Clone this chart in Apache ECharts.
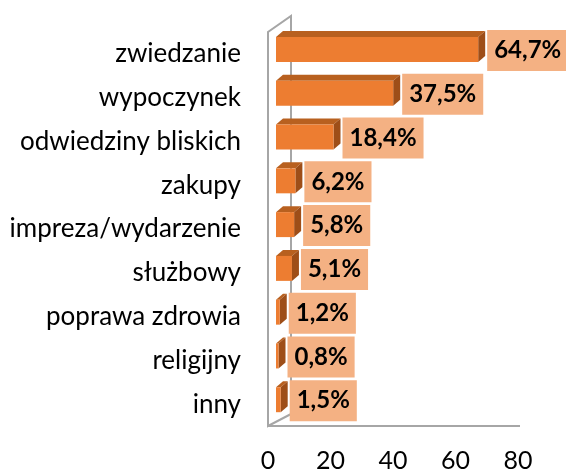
<!DOCTYPE html>
<html><head><meta charset="utf-8">
<script src="https://cdn.jsdelivr.net/npm/echarts@6/dist/echarts.min.js"></script>
<style>html,body{margin:0;padding:0;background:#fff}#c{width:566px;height:473px}</style>
</head><body><div id="c"></div>
<script>
const categories = ['zwiedzanie','wypoczynek','odwiedziny bliskich','zakupy','impreza/wydarzenie','służbowy','poprawa zdrowia','religijny','inny'];
const values = [64.7, 37.5, 18.4, 6.2, 5.8, 5.1, 1.2, 0.8, 1.5];
const tickValues = [0, 20, 40, 60, 80];

const FRONT = '#ED7D31', TOP = '#B8601F', SIDE = '#9E4E18', LABELBG = '#F4B183', FRAME = '#A6A6A6';
const fmt = v => v.toFixed(1).replace('.', ',') + '%';

const chart = echarts.init(document.getElementById('c'), null, {renderer: 'canvas'});

function renderBar(params, api) {
  const v = api.value(0), cat = api.value(1);
  const p0 = api.coord([0, cat]);
  const p1 = api.coord([v, cat]);
  const band = api.size([0, 1])[1];
  const h = band * 0.57;
  const cy = p0[1] - band * 0.1;
  const dx = 7, dy = -6;
  const x0 = p0[0] + 8, x1 = p1[0] + 8;
  const top = cy - h / 2, bot = cy + h / 2;
  return {
    type: 'group',
    children: [
      {type: 'polygon', shape: {points: [[x0, top], [x0 + dx, top + dy], [x1 + dx, top + dy], [x1, top]]}, style: {fill: TOP}},
      {type: 'polygon', shape: {points: [[x1, top], [x1 + dx, top + dy], [x1 + dx, bot + dy], [x1, bot]]}, style: {fill: SIDE}},
      {type: 'rect', shape: {x: x0, y: top, width: x1 - x0, height: h}, style: {fill: FRONT}},
      {type: 'text', x: x1 + dx + 2, y: cy + 1, style: {
        text: fmt(v), font: 'bold 24px Lato', fill: '#000', align: 'left', verticalAlign: 'middle',
        backgroundColor: LABELBG, padding: [9, 7, 8, 7]
      }}
    ]
  };
}

function renderFrame(params, api) {
  const cs = params.coordSys;
  const x = cs.x, yT = cs.y, yB = cs.y + cs.height;
  return {
    type: 'group',
    children: [
      {type: 'polyline', shape: {points: [[x + 23, yB - 12], [x + 23, yT - 16], [x, yT], [x, yB], [x + 23, yB - 12]]},
        style: {stroke: FRAME, lineWidth: 2, fill: null}},
      {type: 'line', shape: {x1: x, y1: yB, x2: x + cs.width + 2, y2: yB}, style: {stroke: FRAME, lineWidth: 2}}
    ]
  };
}

chart.setOption({
  animation: false,
  grid: {left: 268, right: 48, top: 32, bottom: 45},
  xAxis: {
    type: 'value', min: tickValues[0], max: tickValues[tickValues.length - 1], interval: 20,
    axisLine: {show: false}, axisTick: {show: false}, splitLine: {show: false},
    axisLabel: {fontFamily: 'Lato', fontSize: 25, color: '#000', margin: 22}
  },
  yAxis: {
    type: 'category', data: categories, inverse: true,
    axisLine: {show: false}, axisTick: {show: false},
    axisLabel: {fontFamily: 'Lato', fontSize: 26, color: '#000', margin: 27, padding: [9, 0, 0, 0]}
  },
  series: [
    {type: 'custom', z: 1, renderItem: renderFrame, data: [[0, 0]], encode: {x: 0, y: 1}, silent: true},
    {type: 'custom', z: 2, renderItem: renderBar, data: values.map((v, i) => [v, i]), encode: {x: 0, y: 1}}
  ]
});
</script></body></html>
